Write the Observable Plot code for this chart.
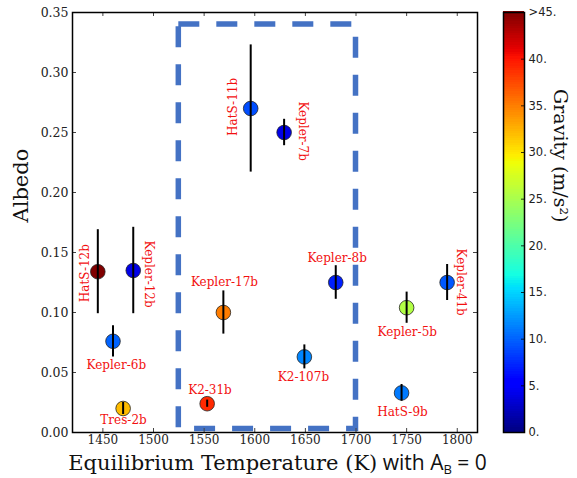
<!DOCTYPE html>
<html><head><meta charset="utf-8">
<script src="https://cdn.jsdelivr.net/npm/d3@7"></script>
<script src="https://cdn.jsdelivr.net/npm/@observablehq/plot@0.6"></script>
<style>
body{margin:0;background:#fff}
#chart{position:relative;width:577px;height:478px;overflow:hidden;background:#fff}
#chart svg{position:absolute;top:0}
</style>
</head><body><div id="chart"></div>
<script>
// ---- data ----
const planets    = ["HatS-12b","Kepler-12b","Kepler-6b","Tres-2b","K2-31b","Kepler-17b","K2-107b","Kepler-8b","HatS-11b","Kepler-7b","Kepler-5b","Kepler-41b","HatS-9b"];
const teq        = [1445, 1480, 1460, 1470, 1553, 1569, 1649, 1680, 1596, 1629, 1750, 1790, 1745];
const albedo     = [0.134, 0.135, 0.076, 0.020, 0.024, 0.100, 0.063, 0.125, 0.270, 0.250, 0.104, 0.125, 0.033];
const albedoErr  = [0.035, 0.036, 0.013, 0.005, 0.003, 0.018, 0.010, 0.014, 0.053, 0.011, 0.013, 0.015, 0.007];
const gravity    = [45, 4, 10, 32, 39, 35, 11.5, 7, 9, 4, 25.5, 9.5, 11];
const labelTeq   = [1432.8, 1495.4, 1463.3, 1470.4, 1555.8, 1570.1, 1648.1, 1681.4, 1578.3, 1647.9, 1750.6, 1803.2, 1745.9];
const labelAlb   = [0.1328, 0.132, 0.0561, 0.0103, 0.0353, 0.125, 0.0463, 0.145, 0.2713, 0.2511, 0.0838, 0.1253, 0.0172];
const labelOrient= ["up","down","h","h","h","h","h","h","up","down","h","down","h"];
const boxTeq     = [1525, 1700];
const boxAlbedo  = [0.003, 0.34];
const xTicks     = [1450, 1500, 1550, 1600, 1650, 1700, 1750, 1800];
const yTicks     = [0, 0.05, 0.10, 0.15, 0.20, 0.25, 0.30, 0.35];
const gTicks     = [0, 5, 10, 15, 20, 25, 30, 35, 40, 45];
const gTickLabels= ["0.","5.","10.","15.","20.","25.","30.","35.","40.",">45."];

// ---- jet colormap ----
function seg(t, pts){
  for (let i = 1; i < pts.length; i++) if (t <= pts[i][0]) {
    const [x0,v0] = pts[i-1], [x1,v1] = pts[i];
    return v0 + (v1 - v0) * (t - x0) / (x1 - x0);
  }
  return pts[pts.length-1][1];
}
const jR=[[0,0],[0.35,0],[0.66,1],[0.89,1],[1,0.5]];
const jG=[[0,0],[0.125,0],[0.375,1],[0.64,1],[0.91,0],[1,0]];
const jB=[[0,0.5],[0.11,1],[0.34,1],[0.65,0],[1,0]];
const jet = t => { t = Math.max(0, Math.min(1, t)); return d3.rgb(255*seg(t,jR), 255*seg(t,jG), 255*seg(t,jB)).formatHex(); };
const colorScale = {type: "linear", domain: [0, 45], interpolate: jet, clamp: true};

const rot = {h: 0, up: -90, down: 90};
const rows = planets.map((p, i) => ({
  name: p, teq: teq[i], alb: albedo[i], err: albedoErr[i], g: gravity[i],
  lt: labelTeq[i], la: labelAlb[i], rot: rot[labelOrient[i]]
}));
const box = [{x1: boxTeq[0], x2: boxTeq[1], y1: boxAlbedo[0], y2: boxAlbedo[1]}];

const W = 577, H = 478, ML = 72, MR = 100, MT = 12, MB = 46;
const PW = W - ML - MR, PH = H - MT - MB;
const serif = "DejaVu Serif";

const main = Plot.plot({
  width: W, height: H,
  marginLeft: ML, marginRight: MR, marginTop: MT, marginBottom: MB,
  style: {fontFamily: serif, background: "transparent"},
  x: {domain: [1420, 1820], label: null},
  y: {domain: [0, 0.35], label: null},
  color: colorScale,
  marks: [
    Plot.rect(box, {x1: "x1", x2: "x2", y1: "y1", y2: "y2", fill: "none",
      stroke: "#4472C4", strokeWidth: 5.5, strokeDasharray: "21,17"}),
    Plot.dot(rows, {x: "teq", y: "alb", r: 7.3, fill: "g", stroke: "#222", strokeWidth: 0.8}),
    Plot.ruleX(rows, {x: "teq", y1: d => d.alb - d.err, y2: d => d.alb + d.err, stroke: "black", strokeWidth: 2}),
    Plot.text(rows, {x: "lt", y: "la", text: "name", rotate: "rot", fill: "#f21010",
      fontSize: 12, fontFamily: serif}),
    // inward ticks on all four sides
    Plot.tickX(xTicks, {x: d => d, insetTop: PH - 4, stroke: "#444"}),
    Plot.tickX(xTicks, {x: d => d, insetBottom: PH - 4, stroke: "#444"}),
    Plot.tickY(yTicks, {y: d => d, insetRight: PW - 4, stroke: "#444"}),
    Plot.tickY(yTicks, {y: d => d, insetLeft: PW - 4, stroke: "#444"}),
    Plot.axisX(xTicks, {tickSize: 0, tickPadding: 3, fontSize: 12, fill: "#222", tickFormat: d => String(d), label: null}),
    Plot.axisY(yTicks, {tickSize: 0, tickPadding: 4, fontSize: 12.5, fill: "#222", tickFormat: d3.format(".2f"), label: null}),
    Plot.frame({stroke: "black", strokeWidth: 1.5}),
    Plot.text(["Albedo"], {frameAnchor: "left", dx: -51, rotate: -90, fontSize: 21, fill: "#111", fontFamily: serif})
  ]
});
main.style.left = "0px";

// x-axis label with subscript
const xl = d3.select(main).append("text")
  .attr("x", ML + PW / 2 + 3).attr("y", 470).attr("text-anchor", "middle")
  .attr("font-size", 21).attr("fill", "#111");
xl.append("tspan").attr("font-family", serif).text("Equilibrium Temperature (K)");
xl.append("tspan").attr("font-family", "Open Sans").text(" with A");
xl.append("tspan").attr("font-family", "Open Sans").attr("font-size", 13).attr("dy", 4).text("B");
xl.append("tspan").attr("font-family", "Open Sans").attr("dy", -4).text(" = 0");

// ---- colorbar ----
const CB_LEFT = 480;
const step = 0.25;
const slices = d3.range(0, 45, step);
const cbar = Plot.plot({
  width: W - CB_LEFT, height: H,
  marginLeft: 503 - CB_LEFT, marginRight: W - 524, marginTop: MT, marginBottom: MB,
  style: {background: "transparent"},
  x: {domain: [0, 1], axis: null},
  y: {domain: [0, 45], label: null},
  color: colorScale,
  marks: [
    Plot.rect(slices, {x1: 0, x2: 1, y1: d => d, y2: d => d + step * 1.6, fill: d => d + step / 2, shapeRendering: "crispEdges"}),
    Plot.tickY(gTicks.slice(1, -1), {y: d => d, insetLeft: 21 - 3, stroke: "#000", strokeWidth: 0.8}),
    Plot.axisY(gTicks, {anchor: "right", tickSize: 0, tickPadding: 4, tickFormat: (d, i) => gTickLabels[i],
      fontSize: 11.5, fontFamily: "DejaVu Sans", fill: "#222", textAnchor: "start", label: null}),
    Plot.frame({stroke: "black", strokeWidth: 1.5}),
    Plot.text(["Gravity (m/s²)"], {frameAnchor: "right", dx: 36, rotate: 90, fontSize: 19, fontFamily: serif, fill: "#111"})
  ]
});
cbar.style.left = CB_LEFT + "px";

const c = document.getElementById("chart");
c.appendChild(main);
c.appendChild(cbar);
</script>
</body></html>
